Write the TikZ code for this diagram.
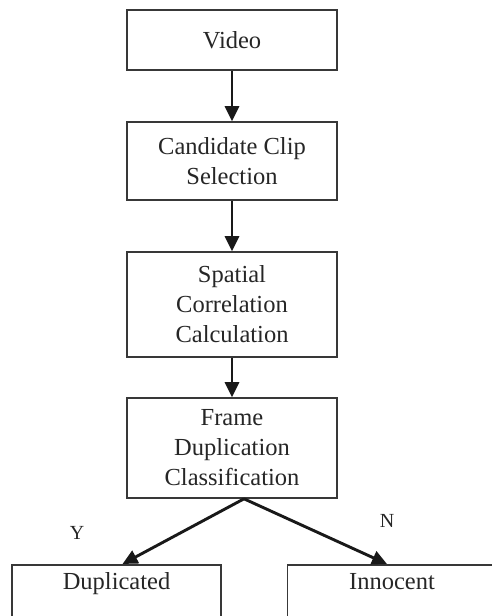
\documentclass[tikz,border=0pt]{standalone}
\usepackage{fontspec}
\setmainfont{Liberation Serif}
\usetikzlibrary{arrows.meta}
\begin{document}
\begin{tikzpicture}[x=1pt,y=-1pt,
  stage/.style={draw=black!78,line width=1.6pt,minimum width=210pt,align=center,
    inner sep=0pt,font=\fontsize{24.5}{30}\selectfont,text=black!85},
  outcome/.style={draw=black!78,line width=1.6pt,minimum width=209pt,anchor=north,
    inner xsep=0pt,inner ysep=8pt,text height=17pt,text depth=50pt,
    font=\fontsize{24.5}{30}\selectfont,text=black!85},
  flow/.style={line width=2.9pt,draw=black!90,-{Triangle[length=15pt,width=14pt]}},
  tag/.style={font=\fontsize{20}{22}\selectfont,text=black!85}]
\useasboundingbox (0,0) rectangle (492,616);
\clip (0,0) rectangle (492,616);
% main pipeline
\node[stage,minimum height=60pt]  (video) at (232,40)    {Video};
\node[stage,minimum height=78pt]  (clip)  at (232,161)   {Candidate Clip\\Selection};
\node[stage,minimum height=105pt] (corr)  at (232,304.5) {Spatial\\Correlation\\Calculation};
\node[stage,minimum height=100pt] (class) at (232,448)   {Frame\\Duplication\\Classification};
% decision outcomes (boxes run past the lower edge)
\node[outcome] (dup) at (116.5,564) {Duplicated};
\node[outcome] (inn) at (392,564)   {Innocent};
% connectors
\draw[flow] (video) -- (clip);
\draw[flow] (clip) -- (corr);
\draw[flow] (corr) -- (class);
\coordinate (split) at ([xshift=12pt]class.south);
\draw[flow] (split) -- ([xshift=6pt]dup.north);
\draw[flow] (split) -- ([xshift=-5pt]inn.north);
% branch labels
\node[tag] (yes) at (77,533) {Y};
\node[tag] (no)  at (387,521) {N};
\end{tikzpicture}
\end{document}
